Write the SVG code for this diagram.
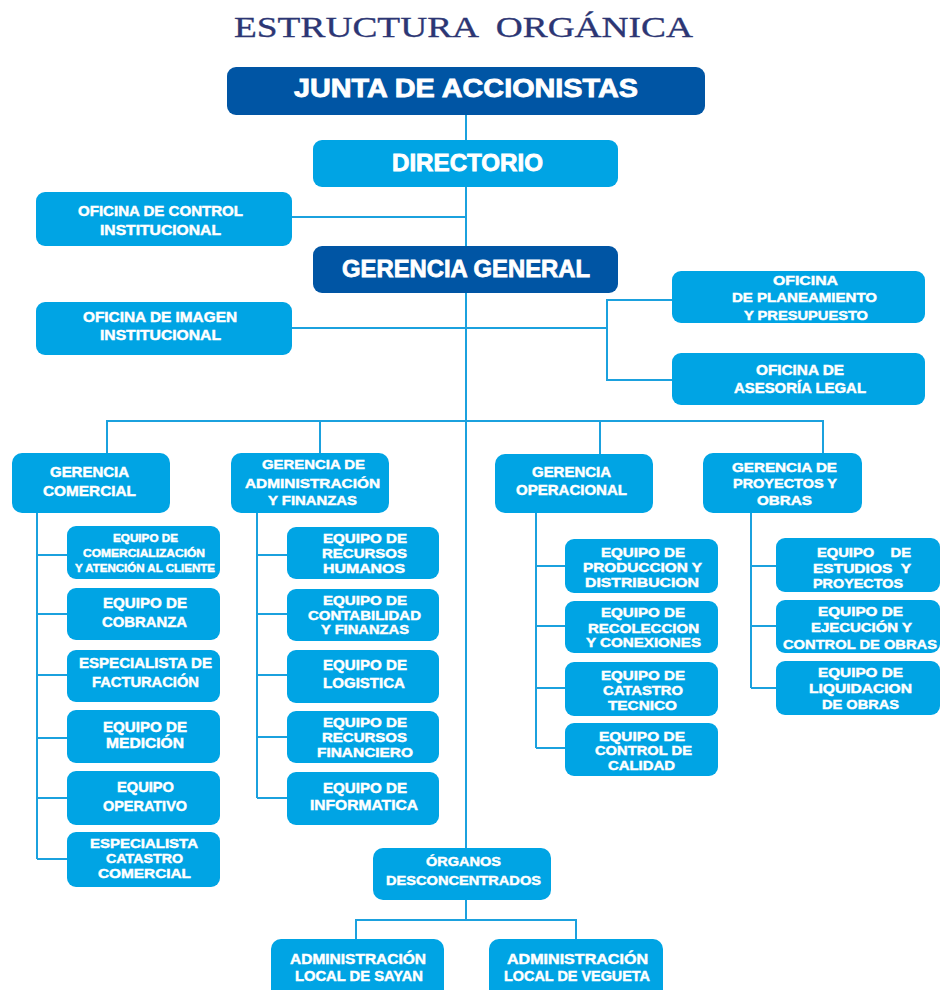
<svg xmlns="http://www.w3.org/2000/svg" width="942" height="990" viewBox="0 0 942 990">
<style>
.bd{fill:#0055a4}
.bl{fill:#00a4e4}
.t{font-family:"Liberation Sans",Arial,sans-serif;font-weight:bold;fill:#ffffff;stroke:#ffffff;stroke-width:0.45px}
.big{stroke-width:0.8px}
.conn{stroke:#1ba1de;stroke-width:2;fill:none}
.title{font-family:"Liberation Serif","Times New Roman",serif;font-size:29px;fill:#2c3674;stroke:#2c3674;stroke-width:0.3px}
</style>
<rect width="942" height="990" fill="#ffffff"/>
<text class="title" x="234" y="37" textLength="459" lengthAdjust="spacingAndGlyphs" xml:space="preserve">ESTRUCTURA  ORGÁNICA</text>
<g id="connectors" class="conn">
<path d="M466 115V140M466 187V246M466 293V848"/>
<path d="M292 217H466"/>
<path d="M292 328H607M672 300H607V380H672"/>
<path d="M107 454V421H823V454M320 421V453M600 421V454"/>
<path d="M37 513V859M37 555H67M37 614H67M37 675H67M37 738H67M37 798H67M37 859H67"/>
<path d="M257 513V798M257 555H287M257 614H287M257 675H287M257 737H287M257 798H287"/>
<path d="M536 513V748M536 566H565M536 626H565M536 688H565M536 748H565"/>
<path d="M751 513V688M751 566H776M751 626H776M751 688H776"/>
<path d="M466 900V920M356 939V920H576V939"/>
</g>
<g id="junta"><rect class="bd" x="227" y="67" width="478" height="48" rx="9"/>
<text class="t big" font-size="25" x="294" y="97" textLength="344" lengthAdjust="spacingAndGlyphs">JUNTA DE ACCIONISTAS</text></g>
<g id="directorio"><rect class="bl" x="313" y="140" width="305" height="47" rx="9"/>
<text class="t big" font-size="23" x="392" y="171" textLength="151" lengthAdjust="spacingAndGlyphs">DIRECTORIO</text></g>
<g id="control"><rect class="bl" x="36" y="192" width="256" height="54" rx="9"/>
<text class="t" font-size="14" x="78" y="216" textLength="165" lengthAdjust="spacingAndGlyphs">OFICINA DE CONTROL</text>
<text class="t" font-size="14" x="100" y="235" textLength="121" lengthAdjust="spacingAndGlyphs">INSTITUCIONAL</text></g>
<g id="gerencia-general"><rect class="bd" x="313" y="246" width="305" height="47" rx="9"/>
<text class="t big" font-size="24" x="342" y="277" textLength="248" lengthAdjust="spacingAndGlyphs">GERENCIA GENERAL</text></g>
<g id="imagen"><rect class="bl" x="36" y="302" width="256" height="53" rx="9"/>
<text class="t" font-size="14" x="83" y="322" textLength="154" lengthAdjust="spacingAndGlyphs">OFICINA DE IMAGEN</text>
<text class="t" font-size="14" x="100" y="340" textLength="121" lengthAdjust="spacingAndGlyphs">INSTITUCIONAL</text></g>
<g id="planeamiento"><rect class="bl" x="672" y="271" width="253" height="52" rx="9"/>
<text class="t" font-size="13" x="773" y="285" textLength="65" lengthAdjust="spacingAndGlyphs">OFICINA</text>
<text class="t" font-size="13" x="732" y="302" textLength="145" lengthAdjust="spacingAndGlyphs">DE PLANEAMIENTO</text>
<text class="t" font-size="13" x="744" y="320" textLength="124" lengthAdjust="spacingAndGlyphs">Y PRESUPUESTO</text></g>
<g id="asesoria"><rect class="bl" x="672" y="353" width="253" height="52" rx="9"/>
<text class="t" font-size="14" x="756" y="375" textLength="88" lengthAdjust="spacingAndGlyphs">OFICINA DE</text>
<text class="t" font-size="14" x="734" y="393" textLength="132" lengthAdjust="spacingAndGlyphs">ASESORÍA LEGAL</text></g>
<g id="g-comercial"><rect class="bl" x="12" y="453" width="158" height="60" rx="10"/>
<text class="t" font-size="14" x="50" y="477" textLength="79" lengthAdjust="spacingAndGlyphs">GERENCIA</text>
<text class="t" font-size="14" x="43" y="496" textLength="93" lengthAdjust="spacingAndGlyphs">COMERCIAL</text></g>
<g id="g-admin"><rect class="bl" x="231" y="453" width="158" height="60" rx="10"/>
<text class="t" font-size="13" x="262" y="469" textLength="103" lengthAdjust="spacingAndGlyphs">GERENCIA DE</text>
<text class="t" font-size="13" x="245" y="488" textLength="135" lengthAdjust="spacingAndGlyphs">ADMINISTRACIÓN</text>
<text class="t" font-size="13" x="268" y="505" textLength="89" lengthAdjust="spacingAndGlyphs">Y FINANZAS</text></g>
<g id="g-operacional"><rect class="bl" x="495" y="454" width="158" height="59" rx="10"/>
<text class="t" font-size="14" x="532" y="477" textLength="79" lengthAdjust="spacingAndGlyphs">GERENCIA</text>
<text class="t" font-size="14" x="516" y="495" textLength="111" lengthAdjust="spacingAndGlyphs">OPERACIONAL</text></g>
<g id="g-proyectos"><rect class="bl" x="703" y="453" width="159" height="60" rx="10"/>
<text class="t" font-size="13" x="732" y="472" textLength="105" lengthAdjust="spacingAndGlyphs">GERENCIA DE</text>
<text class="t" font-size="13" x="733" y="488" textLength="104" lengthAdjust="spacingAndGlyphs">PROYECTOS Y</text>
<text class="t" font-size="13" x="757" y="505" textLength="55" lengthAdjust="spacingAndGlyphs">OBRAS</text></g>
<g id="c-comercializacion"><rect class="bl" x="67" y="526" width="153" height="53" rx="9"/>
<text class="t" font-size="11" x="113" y="542" textLength="65" lengthAdjust="spacingAndGlyphs">EQUIPO DE</text>
<text class="t" font-size="11" x="83" y="557" textLength="122" lengthAdjust="spacingAndGlyphs">COMERCIALIZACIÓN</text>
<text class="t" font-size="11" x="75" y="572" textLength="140" lengthAdjust="spacingAndGlyphs">Y ATENCIÓN AL CLIENTE</text></g>
<g id="c-cobranza"><rect class="bl" x="67" y="588" width="153" height="52" rx="9"/>
<text class="t" font-size="14" x="103" y="608" textLength="84" lengthAdjust="spacingAndGlyphs">EQUIPO DE</text>
<text class="t" font-size="14" x="102" y="627" textLength="85" lengthAdjust="spacingAndGlyphs">COBRANZA</text></g>
<g id="c-facturacion"><rect class="bl" x="67" y="650" width="153" height="52" rx="9"/>
<text class="t" font-size="14" x="79" y="668" textLength="133" lengthAdjust="spacingAndGlyphs">ESPECIALISTA DE</text>
<text class="t" font-size="14" x="92" y="687" textLength="107" lengthAdjust="spacingAndGlyphs">FACTURACIÓN</text></g>
<g id="c-medicion"><rect class="bl" x="67" y="710" width="153" height="53" rx="9"/>
<text class="t" font-size="14" x="103" y="732" textLength="84" lengthAdjust="spacingAndGlyphs">EQUIPO DE</text>
<text class="t" font-size="14" x="106" y="748" textLength="78" lengthAdjust="spacingAndGlyphs">MEDICIÓN</text></g>
<g id="c-operativo"><rect class="bl" x="67" y="771" width="153" height="54" rx="9"/>
<text class="t" font-size="14" x="117" y="792" textLength="57" lengthAdjust="spacingAndGlyphs">EQUIPO</text>
<text class="t" font-size="14" x="103" y="811" textLength="84" lengthAdjust="spacingAndGlyphs">OPERATIVO</text></g>
<g id="c-catastro"><rect class="bl" x="67" y="832" width="153" height="55" rx="9"/>
<text class="t" font-size="13" x="90" y="848" textLength="108" lengthAdjust="spacingAndGlyphs">ESPECIALISTA</text>
<text class="t" font-size="13" x="106" y="863" textLength="77" lengthAdjust="spacingAndGlyphs">CATASTRO</text>
<text class="t" font-size="13" x="98" y="878" textLength="93" lengthAdjust="spacingAndGlyphs">COMERCIAL</text></g>
<g id="a-rrhh"><rect class="bl" x="287" y="527" width="152" height="52" rx="9"/>
<text class="t" font-size="13" x="323" y="543" textLength="84" lengthAdjust="spacingAndGlyphs">EQUIPO DE</text>
<text class="t" font-size="13" x="322" y="558" textLength="85" lengthAdjust="spacingAndGlyphs">RECURSOS</text>
<text class="t" font-size="13" x="323" y="573" textLength="82" lengthAdjust="spacingAndGlyphs">HUMANOS</text></g>
<g id="a-contabilidad"><rect class="bl" x="287" y="589" width="152" height="52" rx="9"/>
<text class="t" font-size="13" x="323" y="605" textLength="84" lengthAdjust="spacingAndGlyphs">EQUIPO DE</text>
<text class="t" font-size="13" x="308" y="620" textLength="113" lengthAdjust="spacingAndGlyphs">CONTABILIDAD</text>
<text class="t" font-size="13" x="321" y="634" textLength="88" lengthAdjust="spacingAndGlyphs">Y FINANZAS</text></g>
<g id="a-logistica"><rect class="bl" x="287" y="650" width="152" height="53" rx="9"/>
<text class="t" font-size="14" x="323" y="670" textLength="84" lengthAdjust="spacingAndGlyphs">EQUIPO DE</text>
<text class="t" font-size="14" x="323" y="688" textLength="82" lengthAdjust="spacingAndGlyphs">LOGISTICA</text></g>
<g id="a-financiero"><rect class="bl" x="287" y="711" width="152" height="52" rx="9"/>
<text class="t" font-size="13" x="323" y="727" textLength="84" lengthAdjust="spacingAndGlyphs">EQUIPO DE</text>
<text class="t" font-size="13" x="322" y="742" textLength="85" lengthAdjust="spacingAndGlyphs">RECURSOS</text>
<text class="t" font-size="13" x="317" y="757" textLength="96" lengthAdjust="spacingAndGlyphs">FINANCIERO</text></g>
<g id="a-informatica"><rect class="bl" x="287" y="772" width="152" height="53" rx="9"/>
<text class="t" font-size="14" x="323" y="793" textLength="84" lengthAdjust="spacingAndGlyphs">EQUIPO DE</text>
<text class="t" font-size="14" x="310" y="810" textLength="108" lengthAdjust="spacingAndGlyphs">INFORMATICA</text></g>
<g id="o-produccion"><rect class="bl" x="565" y="539" width="153" height="54" rx="9"/>
<text class="t" font-size="13" x="601" y="557" textLength="84" lengthAdjust="spacingAndGlyphs">EQUIPO DE</text>
<text class="t" font-size="13" x="583" y="572" textLength="119" lengthAdjust="spacingAndGlyphs">PRODUCCION Y</text>
<text class="t" font-size="13" x="585" y="587" textLength="114" lengthAdjust="spacingAndGlyphs">DISTRIBUCION</text></g>
<g id="o-recoleccion"><rect class="bl" x="565" y="601" width="153" height="52" rx="9"/>
<text class="t" font-size="13" x="601" y="617" textLength="84" lengthAdjust="spacingAndGlyphs">EQUIPO DE</text>
<text class="t" font-size="13" x="588" y="633" textLength="111" lengthAdjust="spacingAndGlyphs">RECOLECCION</text>
<text class="t" font-size="13" x="586" y="647" textLength="115" lengthAdjust="spacingAndGlyphs">Y CONEXIONES</text></g>
<g id="o-catastro"><rect class="bl" x="565" y="662" width="153" height="54" rx="9"/>
<text class="t" font-size="13" x="601" y="680" textLength="84" lengthAdjust="spacingAndGlyphs">EQUIPO DE</text>
<text class="t" font-size="13" x="603" y="695" textLength="80" lengthAdjust="spacingAndGlyphs">CATASTRO</text>
<text class="t" font-size="13" x="608" y="710" textLength="69" lengthAdjust="spacingAndGlyphs">TECNICO</text></g>
<g id="o-calidad"><rect class="bl" x="565" y="723" width="153" height="53" rx="9"/>
<text class="t" font-size="13" x="599" y="741" textLength="86" lengthAdjust="spacingAndGlyphs">EQUIPO DE</text>
<text class="t" font-size="13" x="595" y="755" textLength="97" lengthAdjust="spacingAndGlyphs">CONTROL DE</text>
<text class="t" font-size="13" x="608" y="770" textLength="67" lengthAdjust="spacingAndGlyphs">CALIDAD</text></g>
<g id="p-estudios"><rect class="bl" x="776" y="538" width="164" height="54" rx="9"/>
<text class="t" font-size="13" x="817" y="557" textLength="94" lengthAdjust="spacingAndGlyphs" xml:space="preserve">EQUIPO    DE</text>
<text class="t" font-size="13" x="813" y="573" textLength="98" lengthAdjust="spacingAndGlyphs" xml:space="preserve">ESTUDIOS  Y</text>
<text class="t" font-size="13" x="813" y="588" textLength="90" lengthAdjust="spacingAndGlyphs">PROYECTOS</text></g>
<g id="p-ejecucion"><rect class="bl" x="776" y="600" width="164" height="53" rx="9"/>
<text class="t" font-size="13" x="818" y="616" textLength="85" lengthAdjust="spacingAndGlyphs">EQUIPO DE</text>
<text class="t" font-size="13" x="811" y="632" textLength="101" lengthAdjust="spacingAndGlyphs">EJECUCIÓN Y</text>
<text class="t" font-size="13" x="783" y="649" textLength="154" lengthAdjust="spacingAndGlyphs">CONTROL DE OBRAS</text></g>
<g id="p-liquidacion"><rect class="bl" x="776" y="661" width="164" height="54" rx="9"/>
<text class="t" font-size="13" x="818" y="677" textLength="85" lengthAdjust="spacingAndGlyphs">EQUIPO DE</text>
<text class="t" font-size="13" x="809" y="693" textLength="103" lengthAdjust="spacingAndGlyphs">LIQUIDACION</text>
<text class="t" font-size="13" x="822" y="709" textLength="77" lengthAdjust="spacingAndGlyphs">DE OBRAS</text></g>
<g id="organos"><rect class="bl" x="373" y="848" width="178" height="52" rx="10"/>
<text class="t" font-size="13" x="426" y="866" textLength="75" lengthAdjust="spacingAndGlyphs">ÓRGANOS</text>
<text class="t" font-size="13" x="386" y="885" textLength="155" lengthAdjust="spacingAndGlyphs">DESCONCENTRADOS</text></g>
<g id="sayan"><rect class="bl" x="271" y="939" width="173" height="62" rx="10"/>
<text class="t" font-size="14" x="290" y="964" textLength="136" lengthAdjust="spacingAndGlyphs">ADMINISTRACIÓN</text>
<text class="t" font-size="14" x="295" y="981" textLength="128" lengthAdjust="spacingAndGlyphs">LOCAL DE SAYAN</text></g>
<g id="vegueta"><rect class="bl" x="489" y="939" width="174" height="62" rx="10"/>
<text class="t" font-size="14" x="507" y="964" textLength="141" lengthAdjust="spacingAndGlyphs">ADMINISTRACIÓN</text>
<text class="t" font-size="14" x="504" y="981" textLength="146" lengthAdjust="spacingAndGlyphs">LOCAL DE VEGUETA</text></g>
</svg>
